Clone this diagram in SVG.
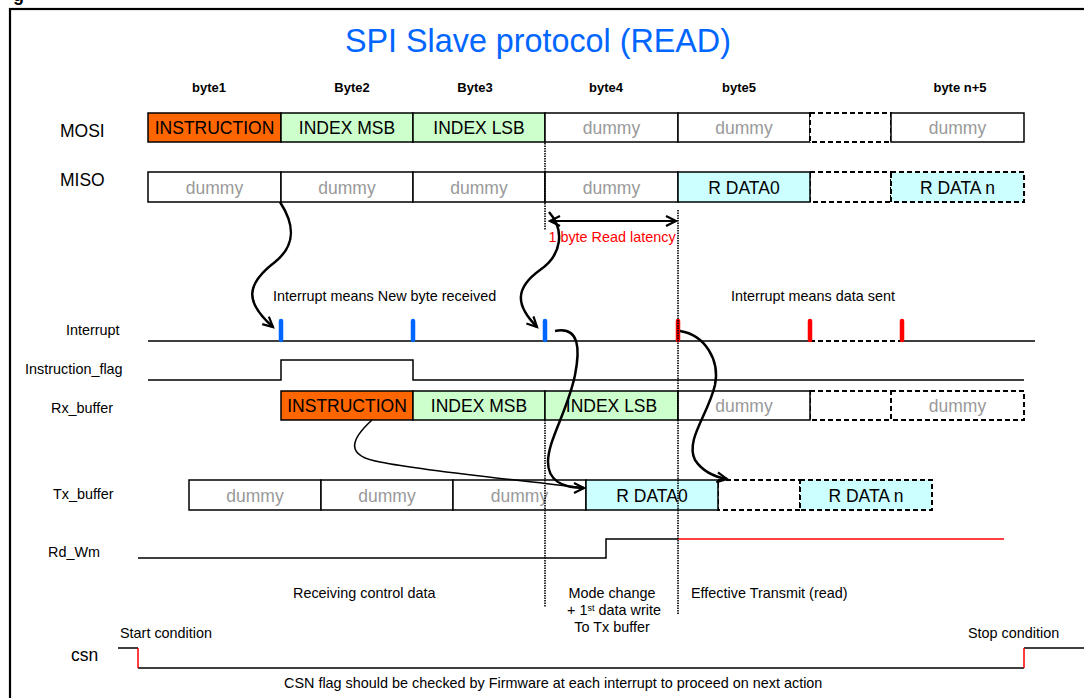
<svg xmlns="http://www.w3.org/2000/svg" width="1084" height="698" viewBox="0 0 1084 698">
<style>
text{font-family:"Liberation Sans",Arial,sans-serif;fill:#000}
.cell{stroke:#000;stroke-width:1.5}
.dash{stroke:#000;stroke-width:2;stroke-dasharray:5 3}
.ct{font-size:17.5px;text-anchor:middle}
.gray{fill:#999}
.lbl{font-size:14.4px}
.big{font-size:17.5px}
.byte{font-size:13px;font-weight:bold;text-anchor:middle}
.sig{stroke:#000;stroke-width:1.5;fill:none}
.dot{stroke:#000;stroke-width:1.6;stroke-dasharray:1.5 1}
.curve{stroke:#000;stroke-width:2.5;fill:none}
.pb{stroke:#0066FF;stroke-width:4.5;stroke-linecap:round}
.pr{stroke:#FF0000;stroke-width:4.5;stroke-linecap:round}
.or{fill:#FF6600}
.gr{fill:#CCFFCC}
.cy{fill:#CCFFFF}
.wh{fill:#FFFFFF}
</style>
<defs>
<marker id="ah" markerUnits="userSpaceOnUse" markerWidth="14" markerHeight="14" refX="11" refY="6" orient="auto-start-reverse">
<path d="M1,1 L11,6 L1,11" fill="none" stroke="#000" stroke-width="2.2"/>
</marker>
</defs>
<rect x="0" y="0" width="1084" height="698" fill="#fff"/>
<text x="13" y="1" style="font-size:18px;font-weight:bold">g</text>
<rect x="10" y="9" width="1100" height="720" fill="none" stroke="#000" stroke-width="2.2"/>
<text x="538" y="52" style="font-size:32.3px;text-anchor:middle;fill:#0066FF">SPI Slave protocol (READ)</text>

<g id="byte-labels">
<text class="byte" x="209" y="92">byte1</text>
<text class="byte" x="352" y="92">Byte2</text>
<text class="byte" x="475" y="92">Byte3</text>
<text class="byte" x="606" y="92">byte4</text>
<text class="byte" x="739" y="92">byte5</text>
<text class="byte" x="960" y="92">byte n+5</text>
</g>

<g id="row-labels">
<text class="big" x="60" y="137">MOSI</text>
<text class="big" x="60" y="186">MISO</text>
<text class="lbl" x="66" y="335">Interrupt</text>
<text class="lbl" x="25" y="374">Instruction_flag</text>
<text class="lbl" x="51" y="413">Rx_buffer</text>
<text class="lbl" x="53" y="499">Tx_buffer</text>
<text class="lbl" x="48" y="557">Rd_Wm</text>
<text class="big" x="71" y="661">csn</text>
</g>

<!-- MOSI -->
<g id="mosi1"><rect class="cell or" x="148" y="113" width="133" height="29"/><text class="ct" x="214.5" y="134">INSTRUCTION</text></g>
<g id="mosi2"><rect class="cell gr" x="281" y="113" width="132" height="29"/><text class="ct" x="347" y="134">INDEX MSB</text></g>
<g id="mosi3"><rect class="cell gr" x="413" y="113" width="132" height="29"/><text class="ct" x="479" y="134">INDEX LSB</text></g>
<g id="mosi4"><rect class="cell wh" x="545" y="113" width="133" height="29"/><text class="ct gray" x="611.5" y="134">dummy</text></g>
<g id="mosi5"><rect class="cell wh" x="678" y="113" width="132" height="29"/><text class="ct gray" x="744" y="134">dummy</text></g>
<g id="mosi6"><rect class="dash wh" x="810" y="113" width="81" height="29"/></g>
<g id="mosi7"><rect class="cell wh" x="891" y="113" width="133" height="29"/><text class="ct gray" x="957.5" y="134">dummy</text></g>
<!-- MISO -->
<g id="miso1"><rect class="cell wh" x="148" y="172" width="133" height="30"/><text class="ct gray" x="214.5" y="193.5">dummy</text></g>
<g id="miso2"><rect class="cell wh" x="281" y="172" width="132" height="30"/><text class="ct gray" x="347" y="193.5">dummy</text></g>
<g id="miso3"><rect class="cell wh" x="413" y="172" width="132" height="30"/><text class="ct gray" x="479" y="193.5">dummy</text></g>
<g id="miso4"><rect class="cell wh" x="545" y="172" width="133" height="30"/><text class="ct gray" x="611.5" y="193.5">dummy</text></g>
<g id="miso6"><rect class="dash wh" x="810" y="172" width="81" height="30"/></g>
<g id="miso5"><rect class="cell cy" x="678" y="172" width="132" height="30"/><text class="ct" x="744" y="193.5">R DATA0</text></g>
<g id="miso7"><rect class="dash cy" x="891" y="172" width="133" height="30"/><text class="ct" x="957.5" y="193.5">R DATA n</text></g>
<!-- Rx -->
<g id="rx1"><rect class="cell or" x="281" y="391" width="132" height="29"/><text class="ct" x="347" y="412">INSTRUCTION</text></g>
<g id="rx2"><rect class="cell gr" x="413" y="391" width="132" height="29"/><text class="ct" x="479" y="412">INDEX MSB</text></g>
<g id="rx3"><rect class="cell gr" x="545" y="391" width="133" height="29"/><text class="ct" x="611.5" y="412">INDEX LSB</text></g>
<g id="rx5"><rect class="dash wh" x="810" y="391" width="81" height="29"/></g>
<g id="rx4"><rect class="cell wh" x="678" y="391" width="132" height="29"/><text class="ct gray" x="744" y="412">dummy</text></g>
<g id="rx6"><rect class="dash wh" x="891" y="391" width="133" height="29"/><text class="ct gray" x="957.5" y="412">dummy</text></g>
<!-- Tx -->
<g id="tx1"><rect class="cell wh" x="189" y="480" width="132" height="30"/><text class="ct gray" x="255" y="501.5">dummy</text></g>
<g id="tx2"><rect class="cell wh" x="321" y="480" width="132" height="30"/><text class="ct gray" x="387" y="501.5">dummy</text></g>
<g id="tx3"><rect class="cell wh" x="453" y="480" width="133" height="30"/><text class="ct gray" x="519.5" y="501.5">dummy</text></g>
<g id="tx5"><rect class="dash wh" x="718" y="480" width="82" height="30"/></g>
<g id="tx4"><rect class="cell cy" x="586" y="480" width="132" height="30"/><text class="ct" x="652" y="501.5">R DATA0</text></g>
<g id="tx6"><rect class="dash cy" x="800" y="480" width="132" height="30"/><text class="ct" x="866" y="501.5">R DATA n</text></g>

<g id="signals">
<path class="sig" d="M148,341 H810 M902,341 H1035"/>
<path class="dash" d="M810,341 H902" fill="none"/>
<path class="sig" d="M148,380 H281 V360 H413 V380 H1024"/>
<path class="sig" d="M138,558 H606 V539 H678"/>
<path d="M678,539 H1004" stroke="#FF0000" stroke-width="1.5"/>
<path class="sig" d="M118,648 H138 M138,668 H1024 M1024,648 H1084"/>
<path d="M138,648 V668 M1024,668 V648" stroke="#FF0000" stroke-width="1.5"/>
</g>

<g id="pulses">
<line class="pb" x1="281" y1="321" x2="281" y2="340"/>
<line class="pb" x1="413" y1="321" x2="413" y2="340"/>
<line class="pb" x1="545" y1="321" x2="545" y2="340"/>
<line class="pr" x1="678" y1="321" x2="678" y2="340"/>
<line class="pr" x1="810" y1="321" x2="810" y2="340"/>
<line class="pr" x1="902" y1="321" x2="902" y2="340"/>
</g>

<g id="connectors">
<path class="dot" d="M545,143 V230 M545,420 V607 M678,210 V615"/>
<path d="M550,221 H676" stroke="#000" stroke-width="2" fill="none" marker-start="url(#ah)" marker-end="url(#ah)"/>
<path class="curve" d="M280,202 C295,225 296,245 275,262 C245,285 245,302 273,327" marker-end="url(#ah)"/>
<path class="curve" d="M549,212 C565,230 562,255 540,270 C515,288 515,305 537,327" marker-end="url(#ah)"/>
<path class="curve" d="M555,331 C580,326 580,350 575,375 C568,410 548,440 548,462 C548,480 562,488 584,488" marker-end="url(#ah)"/>
<path d="M372,420 C350,440 345,456 380,462 C430,472 520,480 584,488" stroke="#000" stroke-width="1.6" fill="none"/>
<path class="curve" d="M680,331 C705,335 720,360 715,385 C708,415 685,440 695,460 C703,472 715,477 727,479" marker-end="url(#ah)"/>
</g>

<g id="annotations">
<text x="612" y="242" style="font-size:14.4px;text-anchor:middle;fill:#FF0000">1 byte Read latency</text>
<text class="lbl" x="273" y="301">Interrupt means New byte received</text>
<text class="lbl" x="731" y="301">Interrupt means data sent</text>
<text class="lbl" x="293" y="598">Receiving control data</text>
<text class="lbl" x="612" y="598" text-anchor="middle">Mode change</text>
<text class="lbl" x="614" y="615" text-anchor="middle">+ 1<tspan style="font-size:9px" dy="-4">st</tspan><tspan dy="4"> data write</tspan></text>
<text class="lbl" x="612" y="632" text-anchor="middle">To Tx buffer</text>
<text class="lbl" x="691" y="598">Effective Transmit (read)</text>
<text class="lbl" x="120" y="638">Start condition</text>
<text class="lbl" x="968" y="638">Stop condition</text>
<text class="lbl" x="284" y="688">CSN flag should be checked by Firmware at each interrupt to proceed on next action</text>
</g>
</svg>
